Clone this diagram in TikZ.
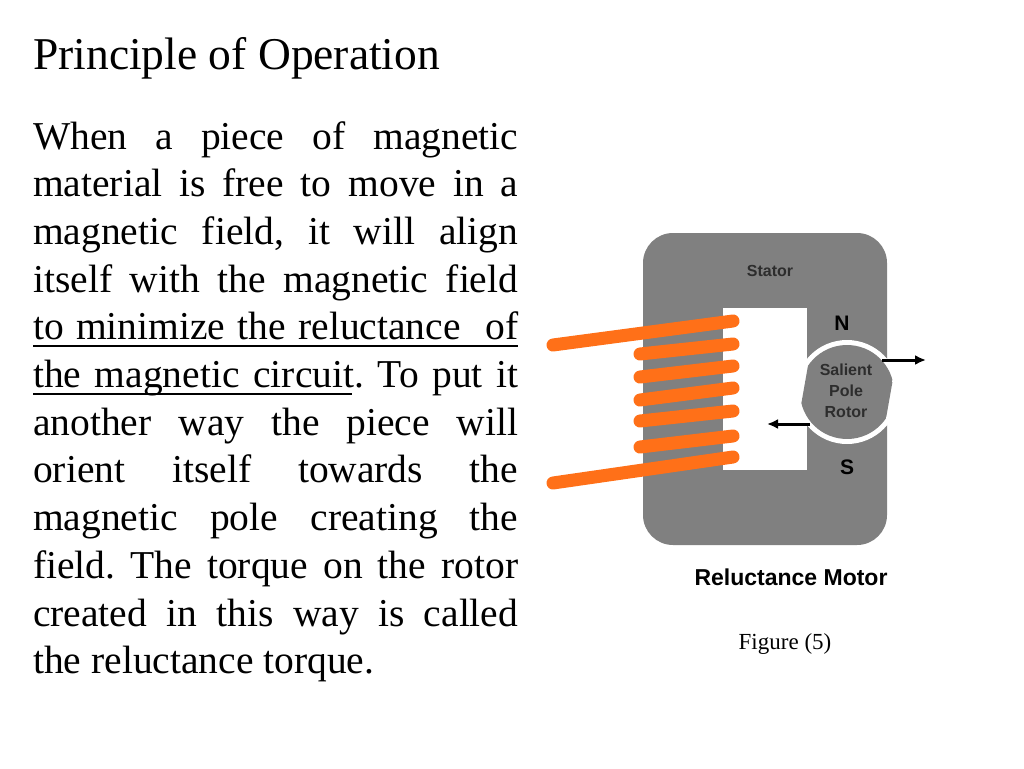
\documentclass[tikz,border=0pt]{standalone}
\usepackage{fontspec}
\setmainfont{Liberation Serif}
\newfontfamily\figfont{Liberation Sans}
\usetikzlibrary{arrows.meta}
\definecolor{coregray}{RGB}{128,128,128}
\definecolor{coilorange}{RGB}{255,112,24}
\definecolor{labelgray}{RGB}{45,45,45}

\begin{document}
\begin{tikzpicture}[x=1pt,y=-1pt,
coil/.style={coilorange, line width=13pt, line cap=round},
label/.style={font=\figfont\bfseries, inner sep=0pt},
push/.style={-{Latex[length=11pt,width=10pt]}, line width=3pt}]
\useasboundingbox (0,0) rectangle (1024,768);

% text column
\node (title) [anchor=base west, inner sep=0pt, font=\fontsize{45.5}{50}\selectfont] at (33,70) {Principle of Operation};
\node (body) [anchor=north west, inner sep=0pt, text width=485pt, align=justify,
  font=\fontsize{39.5}{47.7}\selectfont\frenchspacing] at (33,121) {%
When a piece of magnetic\linebreak
material is free to move in a\linebreak
magnetic field, it will align\linebreak
itself with the magnetic field\linebreak
to minimize the reluctance~~of\linebreak
the magnetic circuit. To put it\linebreak
another way the piece will\linebreak
orient itself towards the\linebreak
magnetic pole creating the\linebreak
field. The torque on the rotor\linebreak
created in this way is called\linebreak
the reluctance torque.\par};
\draw[line width=1.5pt] (33,346) -- (518,346);
\draw[line width=1.5pt] (33,394) -- (352,394);

% stator core
\fill[coregray, rounded corners=30pt] (643,233) rectangle (887,545);
\fill[white] (723,308) rectangle (807,470);
\fill[white] (847,392) circle (52);
\begin{scope}[rotate around={-10:(847,392)}]
  \clip (804,330) rectangle (890,454);
  \fill[coregray] (847,392) circle (47);
\end{scope}

% winding
\draw[coil] (553,345) -- (733,321);
\foreach \ya/\yb in {354/344, 377/366, 400/388, 421/411, 447/436}
  \draw[coil] (640,\ya) -- (733,\yb);
\draw[coil] (553,483) -- (733,457);

% labels
\node (stator) [label, text=labelgray, font=\figfont\bfseries\fontsize{16}{18}\selectfont] at (770,271) {Stator};
\node (north) [label, font=\figfont\bfseries\fontsize{21}{22}\selectfont] at (842,323) {N};
\node (south) [label, font=\figfont\bfseries\fontsize{21}{22}\selectfont] at (847,467) {S};
\node (rotor) [align=center, inner sep=0pt, text=labelgray, font=\figfont\bfseries\fontsize{16}{21}\selectfont] at (846,391) {Salient\\Pole\\Rotor};
\node (caption) [label, font=\figfont\bfseries\fontsize{23}{26}\selectfont] at (791,577) {Reluctance Motor};
\node (fignum) [inner sep=0pt, font=\fontsize{23}{26}\selectfont] at (785,644) {Figure (5)};

% forces
\coordinate (rtail) at (882,360);
\coordinate (rhead) at (926,360);
\coordinate (ltail) at (810,424);
\coordinate (lhead) at (767,424);
\draw[push] (rtail) -- (rhead);
\draw[push] (ltail) -- (lhead);
\end{tikzpicture}
\end{document}
